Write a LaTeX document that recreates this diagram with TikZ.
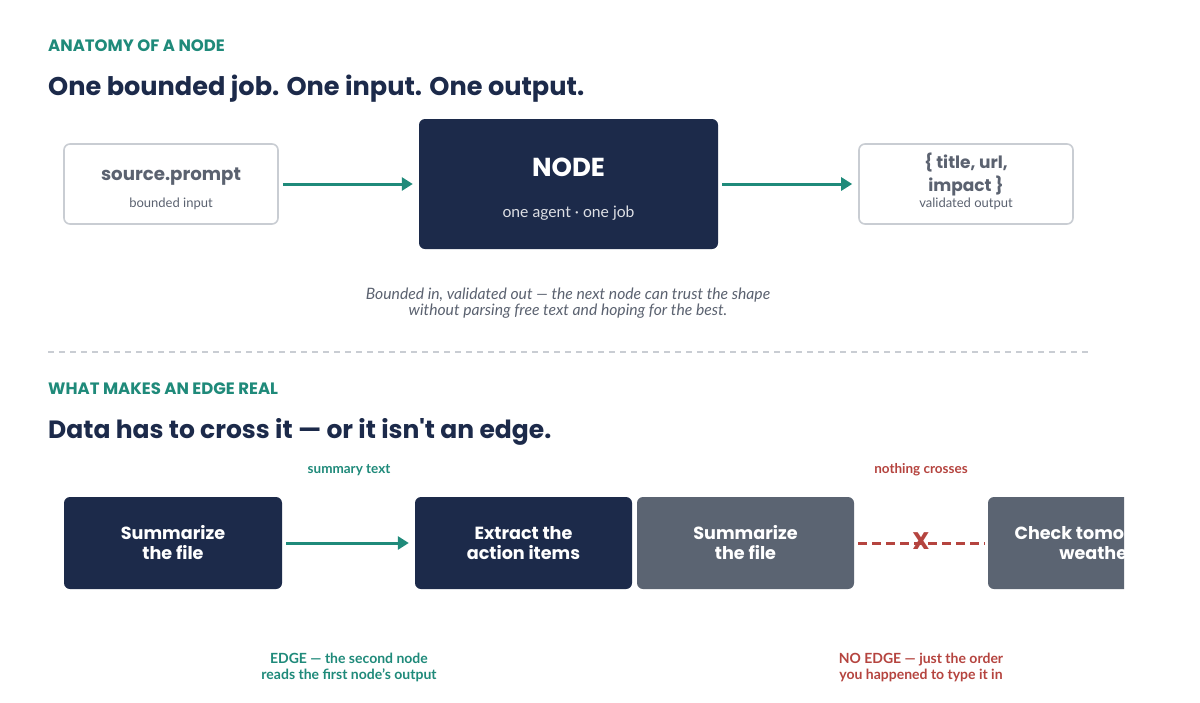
\documentclass[tikz,border=0pt]{standalone}
\usepackage{fontspec}
\defaultfontfeatures{}
\setmainfont{Lato}
\newfontfamily\pop{Poppins}
\usetikzlibrary{arrows.meta}
\definecolor{teal}{HTML}{1F8A7A}
\definecolor{navy}{HTML}{1C2A4A}
\definecolor{slate}{HTML}{5B6472}
\definecolor{txtgray}{HTML}{5B6270}
\definecolor{lgray}{HTML}{C9CDD3}
\definecolor{nored}{HTML}{B5443F}
\tikzset{
  kicker/.style={anchor=base west, text=teal, font=\pop\bfseries\fontsize{16.5}{19}\selectfont, inner sep=0},
  headline/.style={anchor=base west, text=navy, font=\pop\bfseries\fontsize{25.6}{30}\selectfont, inner sep=0},
  iobox/.style={draw=lgray, line width=1.6pt, fill=white, rounded corners=6pt, minimum width=214pt, minimum height=80pt, inner sep=0},
  darkbox/.style={fill=navy, rounded corners=6pt, inner sep=0},
  slatebox/.style={fill=slate, rounded corners=6pt, inner sep=0},
  flow/.style={draw=teal, line width=3pt, -{Triangle[length=11pt,width=13pt]}},
  boxtitle/.style={text=white, font=\pop\bfseries\fontsize{17.6}{20}\selectfont, align=center, inner sep=0},
}
\begin{document}
\begin{tikzpicture}[x=1pt,y=-1pt]
\useasboundingbox[fill=white] (0,0) rectangle (1200,702);
% section 1
\node[kicker] (k1) at (48,51) {ANATOMY OF A NODE};
\node[headline] (h1) at (48,95) {One bounded job. One input. One output.};
\node[iobox] (src) at (171,184) {};
\node[text=txtgray, font=\pop\bfseries\fontsize{18.2}{22}\selectfont, anchor=base] (srct) at (171,180) {source.prompt};
\node[text=txtgray, font=\fontsize{13}{15}\selectfont, anchor=base] (srcs) at (171,207) {bounded input};
\node[darkbox, minimum width=299pt, minimum height=130pt] (nd) at (568.5,184) {};
\node[text=white, font=\pop\bfseries\fontsize{26}{30}\selectfont, anchor=base] (ndt) at (568.5,176) {NODE};
\node[text=white!85!navy, font=\fontsize{15.7}{18}\selectfont, anchor=base] (nds) at (568.5,217) {one agent · one job};
\node[iobox] (out) at (966,184) {};
\node[text=txtgray, font=\pop\bfseries\fontsize{17}{20}\selectfont, anchor=base] (outa) at (966,168) {\{ title, url,};
\node[text=txtgray, font=\pop\bfseries\fontsize{17}{20}\selectfont, anchor=base] (outb) at (966,191) {impact \}};
\node[text=txtgray, font=\fontsize{13}{15}\selectfont, anchor=base] (outs) at (966,207) {validated output};
\draw[flow] ([xshift=4pt]src.east) -- ([xshift=-6pt]nd.west);
\draw[flow] ([xshift=4pt]nd.east) -- ([xshift=-6pt]out.west);
\node[text=txtgray, font=\itshape\fontsize{15.7}{16}\selectfont, align=center, anchor=north] (cap) at (568,284) {Bounded in, validated out — the next node can trust the shape\\without parsing free text and hoping for the best.};
\coordinate (dl) at (48,352);
\coordinate (dr) at (1090,352);
\draw[lgray, line width=1.2pt, dash pattern=on 6pt off 5pt] (dl) -- (dr);
% section 2
\node[kicker] (k2) at (48,394) {WHAT MAKES AN EDGE REAL};
\node[headline, font=\pop\bfseries\fontsize{25}{30}\selectfont] (h2) at (48,438) {Data has to cross it — or it isn't an edge.};
\node[darkbox, minimum width=218pt, minimum height=92pt] (b1) at (173,543) {};
\node[boxtitle] at (b1) {Summarize\\the file};
\node[darkbox, minimum width=217pt, minimum height=92pt] (b2) at (523.5,543) {};
\node[boxtitle] at (b2) {Extract the\\action items};
\node[slatebox, minimum width=217pt, minimum height=92pt] (b3) at (745.5,543) {};
\node[boxtitle] at (b3) {Summarize\\the file};
\begin{scope}
\clip (0,0) rectangle (1124,702);
\node[slatebox, minimum width=218pt, minimum height=92pt] (b4) at (1097,543) {};
\node[boxtitle] at (b4) {Check tomorrow's\\weather};
\end{scope}
\draw[flow] ([xshift=4pt]b1.east) -- ([xshift=-6pt]b2.west);
\draw[nored, line width=3pt, dash pattern=on 9pt off 5pt] ([xshift=4pt]b3.east) -- ([xshift=-3pt]b4.west);
\node[text=nored, font=\pop\bfseries\fontsize{24}{24}\selectfont] (x) at (921,541) {X};
\node[text=teal, font=\bfseries\fontsize{13.5}{15}\selectfont, anchor=base] (st) at (349,473) {summary text};
\node[text=nored, font=\bfseries\fontsize{13.5}{15}\selectfont, anchor=base] (nc) at (921,473) {nothing crosses};
\node[text=teal, font=\bfseries\fontsize{14}{16}\selectfont, align=center, anchor=north] (e1) at (349,650) {EDGE — the second node\\reads the first node's output};
\node[text=nored, font=\bfseries\fontsize{14}{16}\selectfont, align=center, anchor=north] (e2) at (921,650) {NO EDGE — just the order\\you happened to type it in};
\end{tikzpicture}
\end{document}
